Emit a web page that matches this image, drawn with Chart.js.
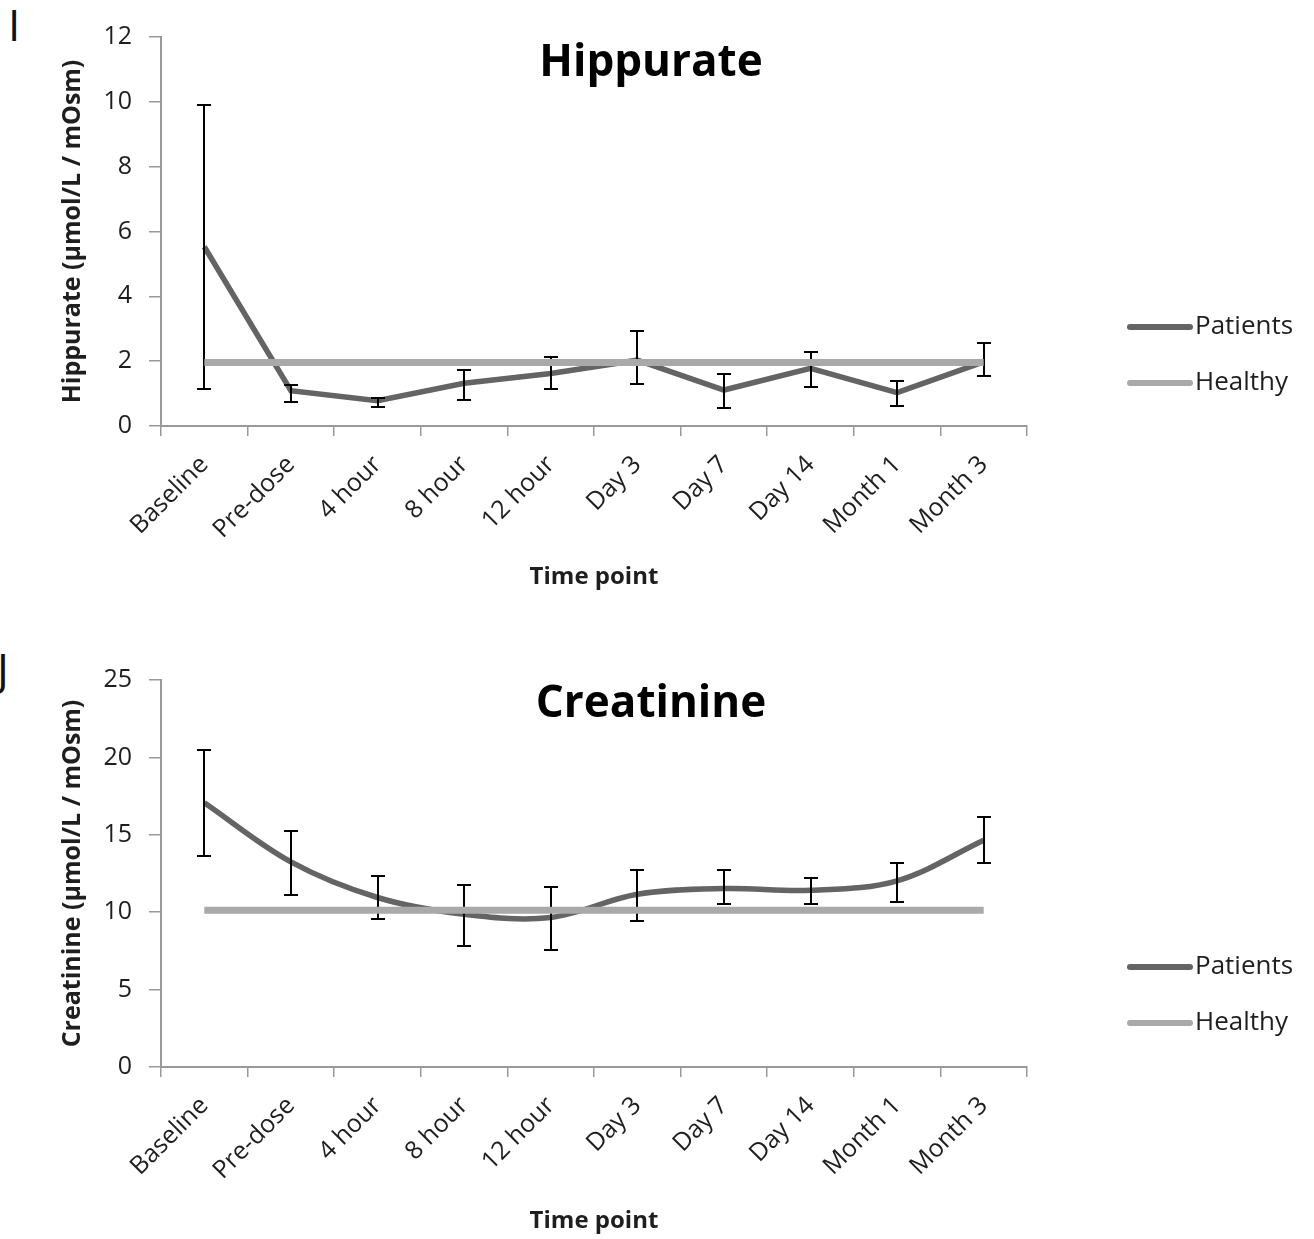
<!DOCTYPE html>
<html>
<head>
<meta charset="utf-8">
<script src="https://cdn.jsdelivr.net/npm/chart.js@4.4.0/dist/chart.umd.min.js"></script>
<style>
  html, body { margin: 0; padding: 0; background: #fff; overflow: hidden; }
  .panel { position: absolute; left: 0; width: 1314px; height: 600px; }
  .tag { position: absolute; font: 44px 'Open Sans', sans-serif; color: #111; line-height: 1; }
</style>
</head>
<body>
<div class="tag" style="left:8px;top:2px">I</div>
<div class="panel" style="top:0"><canvas id="hippurate" width="1314" height="600"></canvas></div>
<div class="tag" style="left:-3px;top:646px">J</div>
<div class="panel" style="top:640px"><canvas id="creatinine" width="1314" height="600"></canvas></div>

<script>
// time points shared by both panels
const timePoints = ['Baseline', 'Pre-dose', '4 hour', '8 hour', '12 hour', 'Day 3', 'Day 7', 'Day 14', 'Month 1', 'Month 3'];

// Hippurate (umol/L / mOsm)
const hippuratePatients = [5.53, 1.09, 0.78, 1.32, 1.62, 2.03, 1.11, 1.78, 1.03, 1.98];
const hippurateUpper    = [9.90, 1.26, 0.85, 1.73, 2.14, 2.94, 1.60, 2.27, 1.40, 2.55];
const hippurateLower    = [1.14, 0.73, 0.60, 0.80, 1.14, 1.29, 0.55, 1.21, 0.62, 1.54];
const hippurateHealthy  = [1.96, 1.96, 1.96, 1.96, 1.96, 1.96, 1.96, 1.96, 1.96, 1.96];
const hippurateTicks = { max: 12, step: 2 };

// Creatinine (umol/L / mOsm)
const creatininePatients = [17.07, 13.25, 10.95, 9.87, 9.66, 11.16, 11.53, 11.42, 12.03, 14.65];
const creatinineUpper    = [20.47, 15.26, 12.33, 11.75, 11.62, 12.71, 12.71, 12.18, 13.19, 16.14];
const creatinineLower    = [13.62, 11.08, 9.53, 7.82, 7.56, 9.42, 10.50, 10.50, 10.65, 13.19];
const creatinineHealthy  = [10.13, 10.13, 10.13, 10.13, 10.13, 10.13, 10.13, 10.13, 10.13, 10.13];
const creatinineTicks = { max: 25, step: 5 };

const PATIENT_GREY = '#646464';
const HEALTHY_GREY = '#a9a9a9';
const AXIS_GREY = '#999999';
const TEXT = '#1e1e1e';
const FONT = "'Open Sans', sans-serif";

// black whiskers with caps, drawn right after the owning dataset so later lines cover them
const errorBars = {
  id: 'errorBars',
  afterDatasetDraw(chart, args) {
    const ds = chart.data.datasets[args.index];
    if (!ds.errUpper) return;
    const y = chart.scales.y;
    const ctx = chart.ctx;
    ctx.save();
    ctx.strokeStyle = '#000';
    ctx.lineWidth = 2;
    args.meta.data.forEach((pt, i) => {
      const x = Math.round(pt.x);
      const top = Math.round(y.getPixelForValue(ds.errUpper[i]));
      const bot = Math.round(y.getPixelForValue(ds.errLower[i]));
      ctx.beginPath();
      ctx.moveTo(x, top); ctx.lineTo(x, bot);
      ctx.moveTo(x - 7, top); ctx.lineTo(x + 7, top);
      ctx.moveTo(x - 7, bot); ctx.lineTo(x + 7, bot);
      ctx.stroke();
    });
    ctx.restore();
  }
};

// big centred heading plus the line-sample key on the right
const headerAndKey = {
  id: 'headerAndKey',
  afterDraw(chart, args, opts) {
    const ctx = chart.ctx;
    ctx.save();
    ctx.fillStyle = '#000';
    ctx.font = `bold 44px ${FONT}`;
    ctx.textAlign = 'center';
    ctx.textBaseline = 'alphabetic';
    ctx.fillText(opts.text, 651, opts.titleBaseline);

    chart.data.datasets.forEach((ds, i) => {
      const y = opts.keyTop + i * 56;
      ctx.strokeStyle = ds.borderColor;
      ctx.lineWidth = 6;
      ctx.lineCap = 'round';
      ctx.beginPath();
      ctx.moveTo(1130, y);
      ctx.lineTo(1190, y);
      ctx.stroke();
      ctx.fillStyle = TEXT;
      ctx.font = `26px ${FONT}`;
      ctx.textAlign = 'left';
      ctx.textBaseline = 'middle';
      ctx.fillText(ds.label, 1195, y);
    });
    ctx.restore();
  }
};

function panel(id, { title, yTitle, patients, upper, lower, healthy, ticks, tension, plotTop, plotBottom, xTitleGap, titleBaseline }) {
  return new Chart(document.getElementById(id), {
    type: 'line',
    data: {
      labels: timePoints,
      datasets: [
        {
          label: 'Patients',
          data: patients,
          errUpper: upper,
          errLower: lower,
          borderColor: PATIENT_GREY,
          backgroundColor: PATIENT_GREY,
          borderWidth: 5.5,
          tension,
          pointRadius: 0,
          order: 1,
        },
        {
          label: 'Healthy',
          data: healthy,
          borderColor: HEALTHY_GREY,
          backgroundColor: HEALTHY_GREY,
          borderWidth: 7,
          tension: 0,
          pointRadius: 0,
          order: 0,
        },
      ],
    },
    plugins: [errorBars, headerAndKey],
    options: {
      responsive: false,
      animation: false,
      devicePixelRatio: 1,
      layout: { padding: { left: 0, top: plotTop, right: 287, bottom: 0 } },
      plugins: {
        legend: { display: false },
        title: { display: false },
        tooltip: { enabled: false },
        headerAndKey: { text: title, titleBaseline, keyTop: 327 },
      },
      scales: {
        x: {
          offset: true,
          grid: { offset: true, drawOnChartArea: false, tickLength: 10, color: AXIS_GREY, lineWidth: 1.5 },
          border: { color: AXIS_GREY, width: 2 },
          ticks: { autoSkip: false, minRotation: 45, maxRotation: 45, padding: 14, color: TEXT, font: { family: FONT, size: 25 } },
          title: { display: true, text: 'Time point', color: TEXT, font: { family: FONT, size: 24, weight: 'bold' }, padding: { top: 0, bottom: xTitleGap } },
          afterFit(s) { s.height = 600 - plotBottom; },
        },
        y: {
          min: 0,
          max: ticks.max,
          grid: { drawOnChartArea: false, tickLength: 12, color: AXIS_GREY, lineWidth: 1.5 },
          border: { color: AXIS_GREY, width: 2 },
          ticks: { stepSize: ticks.step, padding: 17, color: TEXT, font: { family: FONT, size: 25 } },
          title: { display: true, text: yTitle, color: TEXT, font: { family: FONT, size: 25, weight: 'bold' }, padding: { top: 58, bottom: 0 } },
          afterFit(s) { s.width = 161; },
        },
      },
    },
  });
}

panel('hippurate', {
  title: 'Hippurate',
  yTitle: 'Hippurate (µmol/L / mOsm)',
  patients: hippuratePatients,
  upper: hippurateUpper,
  lower: hippurateLower,
  healthy: hippurateHealthy,
  ticks: hippurateTicks,
  tension: 0,
  plotTop: 37,
  plotBottom: 426,
  xTitleGap: 8,
  titleBaseline: 76,
});

panel('creatinine', {
  title: 'Creatinine',
  yTitle: 'Creatinine (µmol/L / mOsm)',
  patients: creatininePatients,
  upper: creatinineUpper,
  lower: creatinineLower,
  healthy: creatinineHealthy,
  ticks: creatinineTicks,
  tension: 0.35,
  plotTop: 40,
  plotBottom: 427,
  xTitleGap: 4,
  titleBaseline: 77,
});
</script>
</body>
</html>
